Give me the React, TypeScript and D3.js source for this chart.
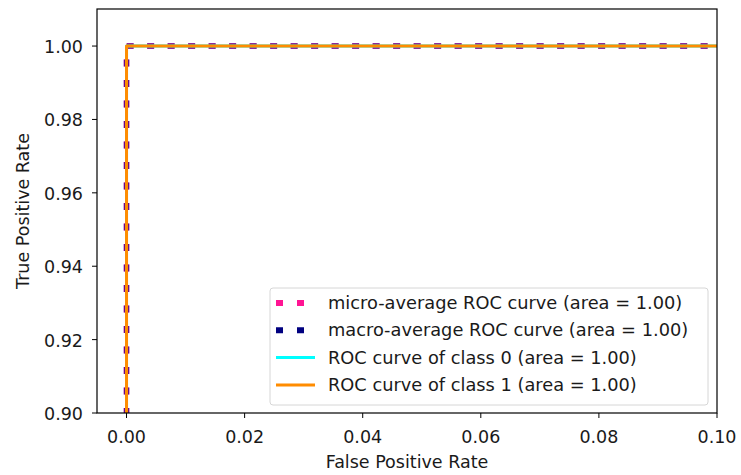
import React from "react";
import * as d3 from "d3";

// ROC points (fpr, tpr) for each curve
const microFpr = [0, 0, 1];
const microTpr = [0, 1, 1];
const macroFpr = [0, 0, 1];
const macroTpr = [0, 1, 1];
const class0Fpr = [0, 0, 1];
const class0Tpr = [0, 1, 1];
const class1Fpr = [0, 0, 1];
const class1Tpr = [0, 1, 1];

const legendLabels = [
  "micro-average ROC curve (area = 1.00)",
  "macro-average ROC curve (area = 1.00)",
  "ROC curve of class 0 (area = 1.00)",
  "ROC curve of class 1 (area = 1.00)",
];
const xTicks = [0, 0.02, 0.04, 0.06, 0.08, 0.1];
const yTicks = [0.9, 0.92, 0.94, 0.96, 0.98, 1.0];

const W = 741;
const H = 475;
const margin = { top: 9, right: 24, bottom: 62, left: 97 };
const font = "DejaVu Sans, sans-serif";
const fs = 17.5;

export default function App() {
  const x = d3.scaleLinear().domain([-0.005, 0.1]).range([margin.left, W - margin.right]);
  const y = d3.scaleLinear().domain([0.9, 1.0101]).range([H - margin.bottom, margin.top]);
  const line = d3.line<[number, number]>().x(d => x(d[0])).y(d => y(d[1]));
  const pts = (f: number[], t: number[]) => f.map((v, i) => [v, t[i]] as [number, number]);

  const curves = [
    { d: pts(microFpr, microTpr), color: "deeppink", width: 5.5, dash: "7,13.5", opacity: 1 },
    { d: pts(macroFpr, macroTpr), color: "navy", width: 5.5, dash: "7,13.5", opacity: 0.6 },
    { d: pts(class0Fpr, class0Tpr), color: "aqua", width: 3, dash: null, opacity: 1 },
    { d: pts(class1Fpr, class1Tpr), color: "darkorange", width: 3, dash: null, opacity: 1 },
  ];
  const legendStyle = [
    { color: "deeppink", width: 6, dash: "7,14" },
    { color: "navy", width: 6, dash: "7,14" },
    { color: "aqua", width: 3, dash: null },
    { color: "darkorange", width: 3, dash: null },
  ];

  const x0 = margin.left, x1 = W - margin.right, y0 = margin.top, y1 = H - margin.bottom;

  return (
    <svg width={W} height={H} style={{ position: "absolute", left: 0, top: 0, background: "white" }}>
      <defs>
        <clipPath id="plot">
          <rect x={x0} y={y0} width={x1 - x0} height={y1 - y0} />
        </clipPath>
      </defs>
      <g clipPath="url(#plot)">
        {curves.map((c, i) => (
          <path key={i} d={line(c.d) ?? ""} fill="none" stroke={c.color} strokeWidth={c.width}
            strokeDasharray={c.dash ?? undefined} strokeOpacity={c.opacity} strokeLinejoin="round" />
        ))}
      </g>
      <rect x={x0} y={y0} width={x1 - x0} height={y1 - y0} fill="none" stroke="black" strokeWidth={1.2} />
      {xTicks.map(t => (
        <g key={t}>
          <line x1={x(t)} x2={x(t)} y1={y1} y2={y1 + 5} stroke="black" />
          <text x={x(t)} y={y1 + 30} textAnchor="middle" fontFamily={font} fontSize={fs} fill="#1a1a1a">{t.toFixed(2)}</text>
        </g>
      ))}
      {yTicks.map(t => (
        <g key={t}>
          <line x1={x0 - 5} x2={x0} y1={y(t)} y2={y(t)} stroke="black" />
          <text x={x0 - 14} y={y(t) + 7} textAnchor="end" fontFamily={font} fontSize={fs} fill="#1a1a1a">{t.toFixed(2)}</text>
        </g>
      ))}
      <text x={(x0 + x1) / 2} y={H - 7} textAnchor="middle" fontFamily={font} fontSize={fs} fill="#1a1a1a">False Positive Rate</text>
      <text transform={`translate(29,${(y0 + y1) / 2}) rotate(-90)`} textAnchor="middle" fontFamily={font} fontSize={fs} fill="#1a1a1a">True Positive Rate</text>
      <g>
        <rect x={270} y={288} width={438} height={117} rx={3} fill="white" fillOpacity={0.8} stroke="#d6d6d6" />
        {legendLabels.map((lab, i) => {
          const cy = 303 + i * 27.3;
          const s = legendStyle[i];
          return (
            <g key={lab}>
              <line x1={276} x2={315} y1={cy} y2={cy} stroke={s.color} strokeWidth={s.width} strokeDasharray={s.dash ?? undefined} />
              <text x={328} y={cy + 6} fontFamily={font} fontSize={17.8} fill="#1a1a1a">{lab}</text>
            </g>
          );
        })}
      </g>
    </svg>
  );
}
